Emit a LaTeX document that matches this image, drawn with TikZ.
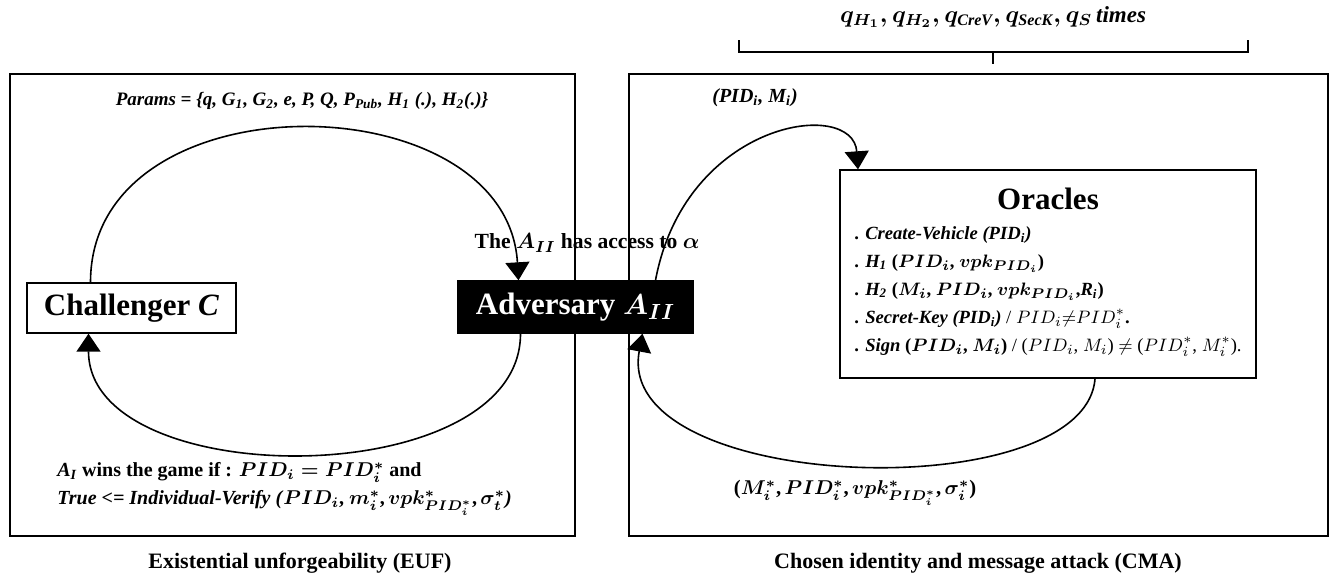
\documentclass[tikz,border=0pt]{standalone}
\usepackage{fontspec}
\setmainfont{Liberation Serif}
\usepackage{amsmath}
\usetikzlibrary{positioning}
\usetikzlibrary{arrows.meta, calc}
\tikzstyle{frame}   = [rectangle, draw, line width=1pt,
                        minimum width=282.75pt, minimum height=231pt]
\tikzstyle{box}     = [rectangle, draw, line width=0.7pt, inner sep=0pt,
                        font=\bfseries\boldmath\fontsize{15.5}{18}\selectfont]
\tikzstyle{advbox}  = [box, fill=black, text=white]
\tikzstyle{flow}    = [line width=0.8pt, -{Triangle[width=12pt,length=9pt]}]
\tikzstyle{lbl}     = [inner sep=0pt, font=\bfseries\itshape\boldmath\fontsize{10}{12}\selectfont]
\tikzstyle{capt}    = [inner sep=0pt, font=\bfseries\fontsize{11}{13}\selectfont]

\begin{document}
\begin{tikzpicture}[x=0.5pt, y=-0.5pt]
\useasboundingbox (0,0) rectangle (1342,579);
% the two games
\node (euf) [frame] at (292.25,305) {};
\node (cma) [frame, minimum width=349.5pt] at (978.5,305) {};
\node (euf title) [capt] at (300,563) {Existential unforgeability (EUF)};
\node (cma title) [capt] at (978,563) {Chosen identity and message attack (CMA)};
% number of queries
\node (queries) [lbl, font=\bfseries\boldmath\fontsize{11.5}{13}\selectfont] at (993,17)
  {$q_{H_1}, q_{H_2}, q_{\text{\itshape CreV}}, q_{\text{\itshape SecK}}, q_S$\,\textit{times}};
\draw [line width=1.2pt] (739,40) -- (739,52) -- (1248,52) -- (1248,40);
\draw [line width=1.2pt] (993,52) -- (993,64);
% players
\node (chal) [box, minimum width=104.5pt, minimum height=25pt] at (131.5,308) {Challenger \textit{C}\hspace{8pt}};
\node (adv) [advbox, minimum width=117.5pt, minimum height=26pt] at (575.5,307) {Adversary $A_{II}$\hspace{12pt}};
\node (oracles) [box, minimum width=208pt, minimum height=104pt,
                 font=\bfseries\boldmath\fontsize{9.3}{14}\selectfont] at (1048,274) {%
  \begin{tabular}{@{}l@{}}
  \multicolumn{1}{@{}c@{}}{\fontsize{15.5}{18}\selectfont Oracles}\\[1pt]
  . \textit{Create-Vehicle (PID\textsubscript{i})}\\
  . \textit{H\textsubscript{1}} ($PID_i$, $vpk_{PID_i}$)\\
  . \textit{H\textsubscript{2}} ($M_i$, $PID_i$, $vpk_{PID_i}$,\textit{R\textsubscript{i}})\\
  . \textit{Secret-Key (PID\textsubscript{i})} {\mdseries\unboldmath / $PID_i{\neq}PID_i^*$}.\\
  . \textit{Sign} ($PID_i$, $M_i$) {\mdseries\unboldmath / ($PID_i$, $M_i$) $\neq$ ($PID_i^*$, $M_i^*$).}
  \end{tabular}};
% labels
\node (params) [lbl, font=\bfseries\itshape\fontsize{9.5}{12}\selectfont] at (302,101)
  {Params = \{q, G\textsubscript{1}, G\textsubscript{2}, e, P, Q, P\textsubscript{Pub}, H\textsubscript{1} (.), H\textsubscript{2}(.)\}};
\node (access) [lbl, font=\bfseries\boldmath\fontsize{10.8}{13}\selectfont] at (587,243) {The $A_{II}$ has access to $\alpha$};
\node (query) [lbl] at (755,98) {(PID\textsubscript{i}, M\textsubscript{i})};
\node (forgery) [lbl, font=\bfseries\boldmath\fontsize{10.3}{12}\selectfont] at (855,493)
  {($M_i^*$,\,$PID_i^*$,\,$vpk^*_{PID_i^*}$,\,$\sigma_i^*$)};
\node (win) [lbl, font=\bfseries\boldmath\fontsize{10}{12}\selectfont, align=left, anchor=west] at (57,489)
  {\textit{A\textsubscript{I}} wins the game if : $PID_i = PID_i^*$ and\\[2pt]
   \textit{True <= Individual-Verify (}$PID_i$, $m_i^*$,\,$vpk^*_{PID_i^*}$,\,$\sigma_t^*$\textit{)}};
% game flows
\draw [flow] ($(chal.north)+(-41,0)$) .. controls +(0,-207) and +(-12,-200) .. ($(adv.north)+(-57,0)$);
\draw [flow] ($(adv.south)+(-55,0)$) .. controls +(0,160) and +(0,160) .. ($(chal.south)+(-43,0)$);
\draw [flow] ($(adv.north)+(80,0)$) .. controls +(30,-160) and +(-5,-72) .. ($(oracles.north)+(-190,0)$);
\draw [flow] ($(oracles.south)+(47,0)$) .. controls +(-10,130) and +(-30,160) .. ($(adv.south)+(67,0)$);
\end{tikzpicture}
\end{document}
